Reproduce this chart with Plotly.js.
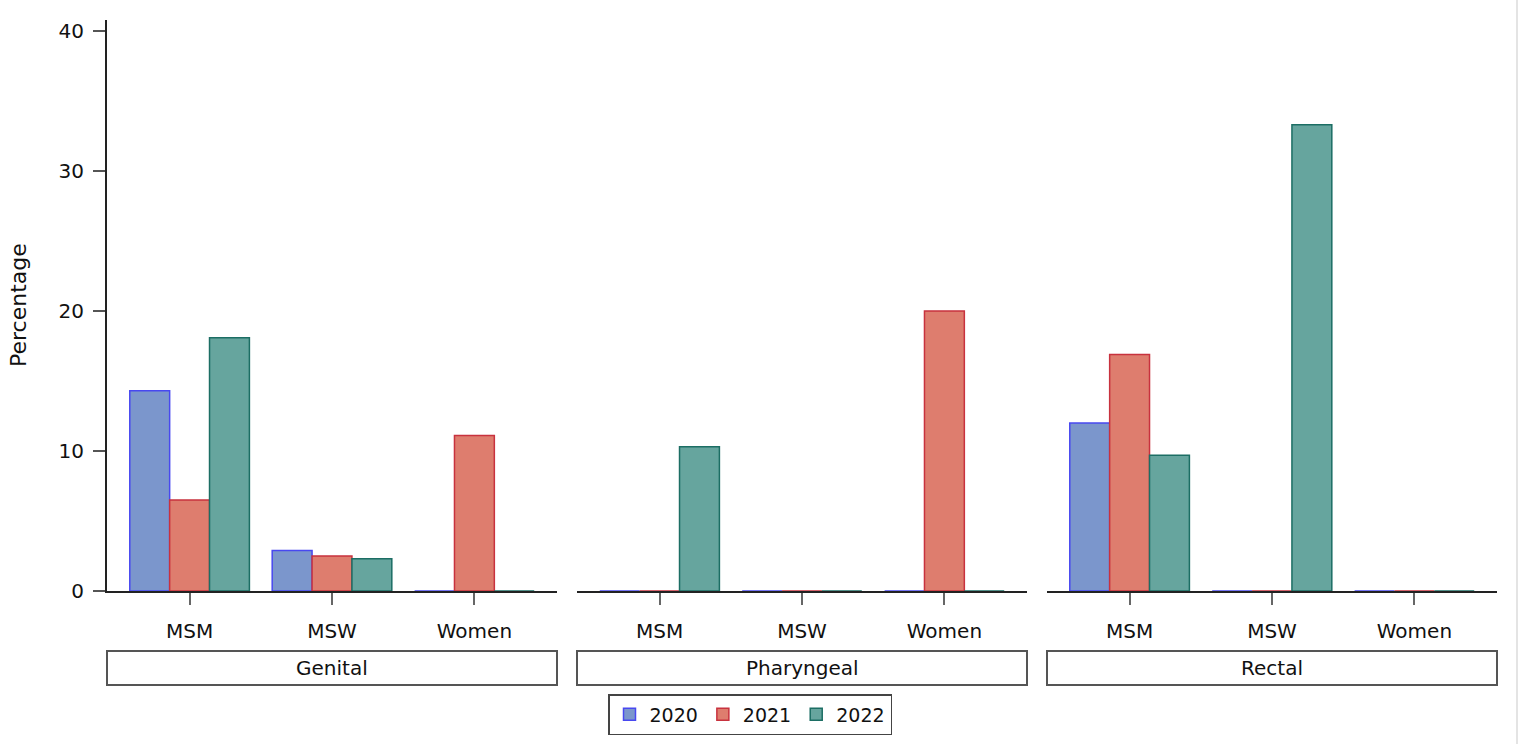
<!DOCTYPE html>
<html>
<head>
<meta charset="utf-8">
<script src="https://cdn.plot.ly/plotly-3.0.1.min.js"></script>
<style>html,body{margin:0;padding:0;background:#fff;}</style>
</head>
<body>
<div id="chart" style="width:1523px;height:744px;"></div>
<script>
// ---- data ----
const categories = ["MSM", "MSW", "Women"];
const sites = ["Genital", "Pharyngeal", "Rectal"];
const years = ["2020", "2021", "2022"];
// percentage per site (rows) and group (columns)
const pct2020 = [[14.3, 2.9, 0], [0, 0, 0], [12.0, 0, 0]];
const pct2021 = [[6.5, 2.5, 11.1], [0, 0, 20.0], [16.9, 0, 0]];
const pct2022 = [[18.1, 2.3, 0], [10.3, 0, 0], [9.7, 33.3, 0]];

const seriesByYear = [pct2020, pct2021, pct2022];
const fills = ["rgb(123,150,204)", "rgb(222,125,110)", "rgb(102,165,158)"];
const borders = ["rgb(72,72,240)", "rgb(200,50,62)", "rgb(28,110,100)"];
const FONT = "DejaVu Sans, Verdana, sans-serif";

const traces = [];
sites.forEach((site, s) => {
  const ax = s === 0 ? "x" : "x" + (s + 1);
  years.forEach((yr, k) => {
    traces.push({
      type: "bar",
      name: yr,
      x: categories,
      y: seriesByYear[k][s],
      xaxis: ax,
      yaxis: "y",
      legendgroup: yr,
      showlegend: s === 0,
      marker: {color: fills[k], line: {color: borders[k], width: 1.5}},
      hoverinfo: "x+y+name"
    });
  });
});

const L = 107, R = 1497, W = 1390;
const doms = [[107, 557], [577, 1027], [1047, 1497]].map(d => [(d[0] - L) / W, (d[1] - L) / W]);

function xaxisDef(dom) {
  return {
    domain: dom,
    type: "category",
    categoryorder: "array",
    categoryarray: categories,
    range: [-0.58, 2.58],
    showline: true, linecolor: "#222", linewidth: 2,
    ticks: "outside", ticklen: 12, tickwidth: 2, tickcolor: "#666",
    showgrid: false, zeroline: false,
    tickfont: {family: FONT, size: 20, color: "#111"},
    ticklabelstandoff: 9,
    automargin: false,
    fixedrange: true
  };
}

const shapes = [];
const annotations = [];
const plotTop = 20, plotBot = 591, H = plotBot - plotTop;
const py = p => (plotBot - p) / H;
sites.forEach((site, s) => {
  const xr = (s === 0 ? "x" : "x" + (s + 1)) + " domain";
  shapes.push({
    type: "rect", xref: xr, yref: "paper",
    x0: 0, x1: 1, y0: py(651), y1: py(685),
    line: {color: "#555", width: 2}, fillcolor: "rgba(0,0,0,0)"
  });
  annotations.push({
    xref: xr, yref: "paper", x: 0.5, y: py(668),
    xanchor: "center", yanchor: "middle",
    text: site, showarrow: false,
    font: {family: FONT, size: 20, color: "#111"}
  });
});
// y-axis title placed exactly
annotations.push({
  xref: "paper", yref: "paper", x: (18 - L) / W, y: py(305),
  xanchor: "center", yanchor: "middle", textangle: -90,
  text: "Percentage", showarrow: false,
  font: {family: FONT, size: 22, color: "#111"}
});
// light frame line at right edge
shapes.push({
  type: "line", xref: "paper", yref: "paper",
  x0: (1517 - L) / W, x1: (1517 - L) / W, y0: py(744), y1: py(0),
  line: {color: "#e4e4e4", width: 2}
});

const layout = {
  width: 1523, height: 744,
  margin: {l: L, r: 1523 - R, t: plotTop, b: 744 - plotBot, pad: 0, autoexpand: false},
  paper_bgcolor: "#fff", plot_bgcolor: "#fff",
  barmode: "group", bargap: 0.16, bargroupgap: 0,
  font: {family: FONT, size: 20, color: "#111"},
  xaxis: xaxisDef(doms[0]),
  xaxis2: xaxisDef(doms[1]),
  xaxis3: xaxisDef(doms[2]),
  yaxis: {
    range: [0, 40.79],
    tickvals: [0, 10, 20, 30, 40],
    showline: true, linecolor: "#222", linewidth: 2,
    ticks: "outside", ticklen: 12, tickwidth: 2, tickcolor: "#555",
    showgrid: false, zeroline: false,
    tickfont: {family: FONT, size: 20, color: "#111"},
    ticklabelstandoff: 5,
    automargin: false,
    fixedrange: true
  },
  legend: {
    orientation: "h",
    xref: "container", yref: "container",
    x: 750 / 1523, xanchor: "center",
    y: (744 - 694) / 744, yanchor: "top",
    bgcolor: "#fff", bordercolor: "#444", borderwidth: 1.5,
    font: {family: FONT, size: 19, color: "#111"},
    traceorder: "normal"
  },
  shapes: shapes,
  annotations: annotations,
  showlegend: true
};

Plotly.newPlot("chart", traces, layout, {displayModeBar: false, staticPlot: true});
</script>
</body>
</html>
